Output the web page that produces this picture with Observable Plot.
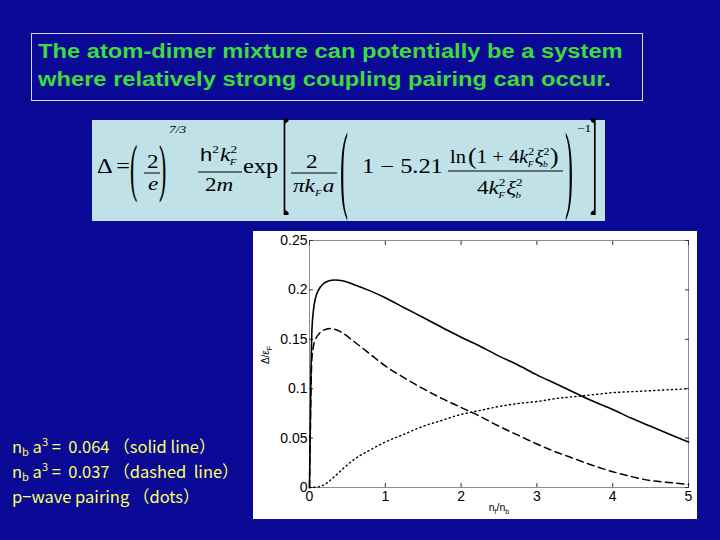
<!DOCTYPE html>
<html>
<head>
<meta charset="utf-8">
<script src="https://cdn.jsdelivr.net/npm/d3@7"></script>
<script src="https://cdn.jsdelivr.net/npm/@observablehq/plot@0.6"></script>
<style>
  html, body { margin: 0; padding: 0; }
  body { width: 720px; height: 540px; background: #0a0a96; position: relative; overflow: hidden; }
  #title { position: absolute; left: 31px; top: 33px; width: 612px; height: 68px; border: 1px solid #d8d8e8; box-sizing: border-box; }
  #title div { color: #3ddc3d; font: bold 19.5px "Liberation Sans", Arial, sans-serif; line-height: 28px; padding: 3px 0 0 5px; white-space: nowrap; transform: scaleX(1.215); transform-origin: 0 0; }
  #formula { position: absolute; left: 92px; top: 120px; overflow: visible; }
  #legend { position: absolute; left: 12px; top: 434px; color: #ffff66; font: 16.5px "Noto Sans CJK JP", sans-serif; line-height: 25px; white-space: nowrap; }
  #legend sub { font-size: 11px; vertical-align: -3px; line-height: 0; }
  #legend sup { font-size: 11px; vertical-align: 7px; line-height: 0; }
  #chart { position: absolute; left: 253px; top: 231px; }
</style>
</head>
<body>
<div id="title"><div>The atom-dimer mixture can potentially be a system<br>where relatively strong coupling pairing can occur.</div></div>

<svg id="formula" width="513" height="101" font-family="Liberation Serif, Times New Roman, serif" fill="#000">
  <rect x="0" y="0" width="513" height="101" fill="#bfe1e7"/>
  <g transform="translate(-92,-120)">
    <text class="st" x="97" y="173" font-size="20">Δ<tspan dx="3">=</tspan></text>
    <text class="st" x="130" y="189" font-size="22" data-sx="1" data-sy="2.9">(</text>
    <text class="st" x="147" y="168" font-size="19">2</text>
    <line x1="144" y1="173" x2="160" y2="173" stroke="#000" stroke-width="1"/>
    <text class="st" x="148" y="190" font-size="19" font-style="italic">e</text>
    <text class="st" x="159" y="189" font-size="22" data-sx="1" data-sy="2.9">)</text>
    <text class="st" x="169" y="133" font-size="11" font-style="italic">7/3</text>
    <text class="st" x="200" y="161" font-size="19"><tspan font-family="Liberation Sans, Arial" font-size="18">h</tspan><tspan font-size="11" dy="-8">2</tspan><tspan font-style="italic" dy="8" dx="1">k</tspan><tspan font-size="11" dy="-8">2</tspan><tspan font-size="9" font-style="italic" dx="-6" dy="12">F</tspan></text>
    <line x1="198" y1="172" x2="242" y2="172" stroke="#000" stroke-width="1"/>
    <text class="st" x="205" y="191" font-size="19">2<tspan font-style="italic">m</tspan></text>
    <text class="st" x="243" y="173" font-size="20">exp</text>
    <text class="st" x="282" y="199.5" font-size="22" data-sx="1" data-sy="5.3">[</text>
    <text class="st" x="306" y="168" font-size="19">2</text>
    <line x1="291" y1="173" x2="337" y2="173" stroke="#000" stroke-width="1"/>
    <text class="st" x="293" y="192" font-size="19" font-style="italic">πk<tspan font-size="9" dy="4">F</tspan><tspan dy="-4" dx="1">a</tspan></text>
    <text class="st" x="340" y="200" font-size="24" data-sx="1" data-sy="4.1">(</text>
    <text class="st" x="362" y="173" font-size="20">1 − 5.21</text>
    <text class="st" x="450" y="163" font-size="19" data-sx="1.08">ln<tspan dx="2" font-size="24" dy="1">(</tspan><tspan dy="-1">1 + 4</tspan><tspan font-style="italic">k</tspan><tspan font-size="11" dy="-8">2</tspan><tspan font-size="9" font-style="italic" dx="-6" dy="12">F</tspan><tspan font-style="italic" dy="-4" dx="1">ξ</tspan><tspan font-size="11" dy="-8">2</tspan><tspan font-size="9" font-style="italic" dx="-6" dy="12">b</tspan><tspan font-size="24" dx="2" dy="-3">)</tspan></text>
    <line x1="448" y1="171" x2="563" y2="171" stroke="#000" stroke-width="1"/>
    <text class="st" x="477" y="194" font-size="19">4<tspan font-style="italic">k</tspan><tspan font-size="11" dy="-8">2</tspan><tspan font-size="9" font-style="italic" dx="-6" dy="12">F</tspan><tspan font-style="italic" dy="-4" dx="1">ξ</tspan><tspan font-size="11" dy="-8">2</tspan><tspan font-size="9" font-style="italic" dx="-6" dy="12">b</tspan></text>
    <text class="st" x="565" y="200" font-size="24" data-sx="1" data-sy="4.1">)</text>
    <text class="st" x="577" y="132" font-size="11">−1</text>
    <text class="st" x="590" y="199.5" font-size="22" data-sx="1" data-sy="5.3">]</text>
  </g>
</svg>

<div id="legend">
  <div>n<sub>b</sub> a<sup>3</sup> =&nbsp; 0.064 （solid line）</div>
  <div>n<sub>b</sub> a<sup>3</sup> =&nbsp; 0.037 （dashed&nbsp; line）</div>
  <div>p−wave pairing （dots）</div>
</div>

<div id="chart"></div>

<script>
// Axis ticks
const xTicks = [0, 1, 2, 3, 4, 5];
const yTicks = [0, 0.05, 0.1, 0.15, 0.2, 0.25];

// Solid line: n_b a^3 = 0.064
const solidX = [0, 0.01, 0.02, 0.03, 0.05, 0.08, 0.12, 0.18, 0.25, 0.33, 0.45, 0.6, 0.8, 1.0, 1.25, 1.5, 1.75, 2.0, 2.25, 2.5, 2.75, 3.0, 3.25, 3.5, 3.75, 4.0, 4.25, 4.5, 4.75, 5.0];
const solidY = [0, 0.06, 0.12, 0.155, 0.178, 0.192, 0.200, 0.206, 0.209, 0.210, 0.209, 0.205, 0.199, 0.192, 0.182, 0.172, 0.162, 0.152, 0.143, 0.133, 0.124, 0.114, 0.105, 0.096, 0.087, 0.079, 0.070, 0.062, 0.054, 0.046];

// Dashed line: n_b a^3 = 0.037
const dashedX = [0, 0.01, 0.02, 0.03, 0.05, 0.08, 0.12, 0.18, 0.27, 0.4, 0.6, 0.8, 1.0, 1.25, 1.5, 1.75, 2.0, 2.25, 2.5, 2.75, 3.0, 3.25, 3.5, 3.75, 4.0, 4.25, 4.5, 4.75, 5.0];
const dashedY = [0, 0.05, 0.10, 0.128, 0.142, 0.150, 0.155, 0.159, 0.161, 0.158, 0.147, 0.135, 0.123, 0.111, 0.100, 0.090, 0.081, 0.072, 0.062, 0.053, 0.044, 0.036, 0.029, 0.022, 0.016, 0.011, 0.007, 0.005, 0.003];

// Dotted line: p-wave pairing
const dotX = [0, 0.1, 0.2, 0.3, 0.4, 0.5, 0.6, 0.8, 1.0, 1.25, 1.5, 1.75, 2.0, 2.25, 2.5, 2.75, 3.0, 3.25, 3.5, 3.75, 4.0, 4.25, 4.5, 4.75, 5.0];
const dotY = [0, 0.0005, 0.003, 0.009, 0.016, 0.023, 0.029, 0.038, 0.046, 0.054, 0.062, 0.068, 0.074, 0.078, 0.082, 0.085, 0.087, 0.090, 0.092, 0.094, 0.096, 0.097, 0.098, 0.099, 0.100];

// Stretch formula glyphs horizontally (and big delimiters vertically) about their anchor
document.querySelectorAll("#formula text.st").forEach(t => {
  const x = +t.getAttribute("x"), y = +t.getAttribute("y");
  const sx = t.dataset.sx ? +t.dataset.sx : 1.22, sy = t.dataset.sy ? +t.dataset.sy : 1;
  t.setAttribute("transform", `translate(${x},${y}) scale(${sx},${sy}) translate(${-x},${-y})`);
});

const toRows = (xs, ys) => xs.map((x, i) => ({x, y: ys[i]}));
const solid = toRows(solidX, solidY);
const dashed = toRows(dashedX, dashedY);
const dots = toRows(dotX, dotY);

const W = 444, H = 288;
const chart = Plot.plot({
  width: W, height: H,
  marginLeft: 56, marginRight: 9, marginTop: 9, marginBottom: 32,
  style: {background: "white", fontFamily: "Liberation Sans, Arial, sans-serif", color: "black", overflow: "visible"},
  x: {domain: [0, 5]},
  y: {domain: [0, 0.25]},
  marks: [
    Plot.frame({stroke: "#8c8c8c"}),
    Plot.axisX({ticks: xTicks, anchor: "bottom", tickSize: -4, label: null, tickFormat: () => "", stroke: "#333"}),
    Plot.axisX({ticks: xTicks, anchor: "top", tickSize: -4, label: null, tickFormat: () => "", stroke: "#333"}),
    Plot.axisY({ticks: yTicks, anchor: "left", tickSize: -4, label: null, tickFormat: () => "", stroke: "#333"}),
    Plot.axisY({ticks: yTicks, anchor: "right", tickSize: -4, label: null, tickFormat: () => "", stroke: "#333"}),
    // Tick labels
    Plot.text(xTicks, {x: d => d, frameAnchor: "bottom", lineAnchor: "top", dy: 4, text: d => String(d), fontSize: 14, fill: "black"}),
    Plot.text(yTicks, {y: d => d, frameAnchor: "left", textAnchor: "end", dx: -2, text: d => String(d), fontSize: 14, fill: "black"}),
    Plot.line(dots, {x: "x", y: "y", curve: "monotone-x", stroke: "black", strokeWidth: 1.4, strokeDasharray: "1.2,3.2"}),
    Plot.line(dashed, {x: "x", y: "y", curve: "monotone-x", stroke: "black", strokeWidth: 1.5, strokeDasharray: "7,4.5"}),
    Plot.line(solid, {x: "x", y: "y", curve: "monotone-x", stroke: "black", strokeWidth: 1.6})
  ]
});
document.getElementById("chart").appendChild(chart);

// Axis labels with sub-scripts
const svg = d3.select(chart);
const xl = svg.append("text").attr("x", 246).attr("y", 280).attr("text-anchor", "middle")
  .attr("font-size", 10.5).attr("fill", "black");
xl.append("tspan").text("n");
xl.append("tspan").attr("font-size", 7).attr("dy", 3).text("f");
xl.append("tspan").attr("dy", -3).text("/n");
xl.append("tspan").attr("font-size", 7).attr("dy", 3).text("b");

const yl = svg.append("text").attr("transform", "translate(16,124) rotate(-90)").attr("text-anchor", "middle")
  .attr("font-size", 10).attr("fill", "black");
yl.append("tspan").text("Δ/ε");
yl.append("tspan").attr("font-size", 7).attr("dy", 3).text("F");
</script>
</body>
</html>
